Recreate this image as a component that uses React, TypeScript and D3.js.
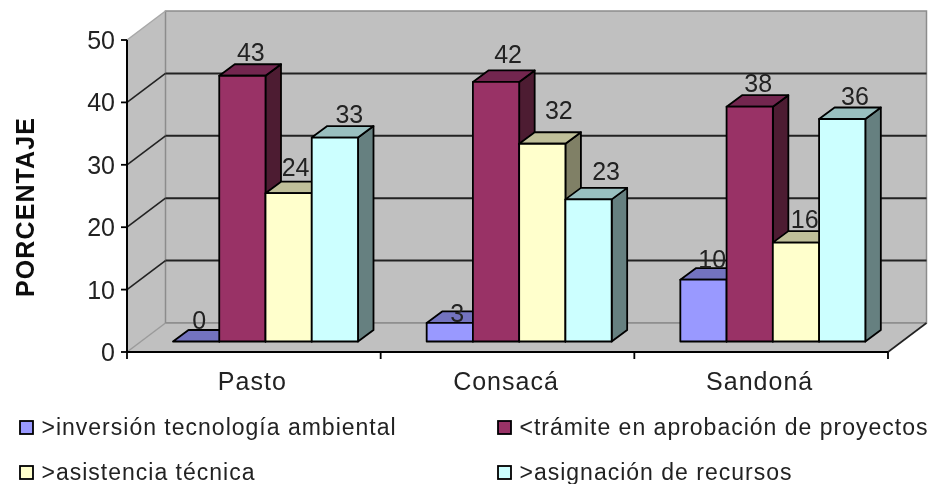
import React from "react";
import * as d3 from "d3";

const categories = ["Pasto", "Consacá", "Sandoná"];
const seriesNames = [
  ">inversión tecnología ambiental",
  "<trámite en aprobación de proyectos",
  ">asistencia técnica",
  ">asignación de recursos",
];
const inversion = [0, 3, 10];
const tramite = [43, 42, 38];
const asistencia = [24, 32, 16];
const asignacion = [33, 23, 36];
const yTicks = [0, 10, 20, 30, 40, 50];
const faceColors = ["#9999FF", "#993366", "#FFFFCC", "#CCFFFF"];
const topColors = ["#7373BF", "#732650", "#BFBF99", "#99BFBF"];
const sideColors = ["#4D4D80", "#4D1A33", "#808066", "#668080"];

const W = 935, H = 484;
const font = "'Liberation Sans', Arial, sans-serif";
const frontL = 127, frontR = 888, frontB = 352, frontT = 40;
const wallDx = 38.5, wallDy = -29;
const barDx = 15.5, barDy = -11.5;

// label placement nudges, [series][category] relative to the bar's top-centre
const labelDx = [[3, 7.5, 8.7], [8.5, 12, 8.5], [7, 16.5, 8.7], [14.5, 17.5, 12.7]];
const labelDy = [[-12.5, -1, -11.7], [-14.8, -19, -14.7], [-17.5, -24.7, -14.6], [-14.6, -19.4, -14]];

const yFront = d3.scaleLinear().domain([0, 50]).range([frontB, frontT]);
const yWall = d3.scaleLinear().domain([0, 50]).range([frontB + wallDy, frontT + wallDy]);
const yBar = d3.scaleLinear().domain([0, 50]).range([341.5, 32.5]);
const xCat = d3.scaleBand<string>().domain(categories).range([frontL, frontR]);
const xEdges = [frontL, xCat("Consacá")!, xCat("Sandoná")!, frontR];
const xSeries = d3.scaleBand<number>().domain([0, 1, 2, 3]).range([46, 231]);
const values = [inversion, tramite, asistencia, asignacion];
const pts = (p: number[][]) => p.map((q) => q.join(",")).join(" ");

const legendPos = [
  { x: 20, y: 421 },
  { x: 498, y: 421 },
  { x: 20, y: 466 },
  { x: 498, y: 466 },
];

export default function App() {
  return (
    <svg width={W} height={H} viewBox={`0 0 ${W} ${H}`} style={{ position: "absolute", left: 0, top: 0, background: "#fff" }}>
      <defs>
        <filter id="soft" x="-2%" y="-2%" width="104%" height="104%">
          <feGaussianBlur stdDeviation="0.45" />
        </filter>
      </defs>
      <g filter="url(#soft)">
        {/* walls and floor */}
        <polygon points={pts([[frontL, frontT], [frontL + wallDx, frontT + wallDy], [frontL + wallDx, frontB + wallDy], [frontL, frontB]])} fill="#C0C0C0" />
        <rect x={frontL + wallDx} y={yWall(50)} width={frontR - frontL} height={yWall(0) - yWall(50)} fill="#C0C0C0" stroke="#8c8c8c" strokeWidth={1.5} />
        <polygon points={pts([[frontL, frontB], [frontL + wallDx, frontB + wallDy], [frontR + wallDx, frontB + wallDy], [frontR, frontB]])} fill="#C0C0C0" />
        <line x1={frontL} y1={frontT} x2={frontL + wallDx} y2={yWall(50)} stroke="#a8a8a8" strokeWidth={1.5} />
        <line x1={frontL} y1={frontB} x2={frontL + wallDx} y2={yWall(0)} stroke="#9a9a9a" strokeWidth={1.5} />
        <line x1={frontL + wallDx} x2={frontR + wallDx} y1={yWall(0)} y2={yWall(0)} stroke="#8c8c8c" strokeWidth={1.5} />
        {yTicks.filter((t) => t > 0 && t < 50).map((t) => (
          <g key={t}>
            <line x1={frontL + wallDx} x2={frontR + wallDx} y1={yWall(t)} y2={yWall(t)} stroke="#222" strokeWidth={2} />
            <line x1={frontL} y1={yFront(t)} x2={frontL + wallDx} y2={yWall(t)} stroke="#222" strokeWidth={1.6} />
          </g>
        ))}
        <line x1={frontR} y1={frontB} x2={frontR + wallDx} y2={yWall(0)} stroke="#222" strokeWidth={1.6} />

        {/* bars */}
        {categories.map((c, ci) =>
          values.map((vals, si) => {
            const x0 = xCat(c)! + xSeries(si)!;
            const x1 = x0 + xSeries.bandwidth();
            const yt = yBar(vals[ci]);
            const yb = yBar(0);
            return (
              <g key={c + si} stroke="#000" strokeWidth={1.8} strokeLinejoin="round">
                <polygon points={pts([[x1, yb], [x1 + barDx, yb + barDy], [x1 + barDx, yt + barDy], [x1, yt]])} fill={sideColors[si]} />
                <polygon points={pts([[x0, yt], [x0 + barDx, yt + barDy], [x1 + barDx, yt + barDy], [x1, yt]])} fill={topColors[si]} />
                {vals[ci] > 0 && <rect x={x0} y={yt} width={x1 - x0} height={yb - yt} fill={faceColors[si]} />}
              </g>
            );
          })
        )}

        {/* value labels */}
        {categories.map((c, ci) =>
          values.map((vals, si) => (
            <text
              key={c + si}
              x={xCat(c)! + xSeries(si)! + xSeries.bandwidth() / 2 + labelDx[si][ci]}
              y={yBar(vals[ci]) + labelDy[si][ci]}
              textAnchor="middle"
              fontFamily={font}
              fontSize={25}
              fill="#222"
            >
              {vals[ci]}
            </text>
          ))
        )}

        {/* axes */}
        <line x1={frontL} x2={frontL} y1={frontT} y2={frontB + 1} stroke="#000" strokeWidth={2} />
        <line x1={frontL} x2={frontR} y1={frontB} y2={frontB} stroke="#000" strokeWidth={2} />
        {yTicks.map((t) => (
          <g key={t}>
            <line x1={frontL - 6} x2={frontL} y1={yFront(t)} y2={yFront(t)} stroke="#000" strokeWidth={1.8} />
            <text x={115} y={yFront(t) + 9} textAnchor="end" fontFamily={font} fontSize={25} fill="#222">{t}</text>
          </g>
        ))}
        {xEdges.map((x) => (
          <line key={x} x1={x} x2={x} y1={frontB} y2={frontB + 7} stroke="#000" strokeWidth={1.8} />
        ))}
        {categories.map((c) => (
          <text key={c} x={xCat(c)! + xCat.bandwidth() / 2 - 1.5} y={390} textAnchor="middle" fontFamily={font} fontSize={25} letterSpacing={1} fill="#222">{c}</text>
        ))}
        <text transform="translate(34,207) rotate(-90)" textAnchor="middle" fontFamily={font} fontSize={25} fontWeight="bold" letterSpacing={1.1} fill="#111">PORCENTAJE</text>

        {/* legend */}
        {seriesNames.map((n, i) => (
          <g key={n}>
            <rect x={legendPos[i].x} y={legendPos[i].y} width={13} height={13} fill={faceColors[i]} stroke="#000" strokeWidth={1.8} />
            <text x={legendPos[i].x + 21.5} y={legendPos[i].y + 14} fontFamily={font} fontSize={23} letterSpacing={1} fill="#222">{n}</text>
          </g>
        ))}
      </g>
    </svg>
  );
}
